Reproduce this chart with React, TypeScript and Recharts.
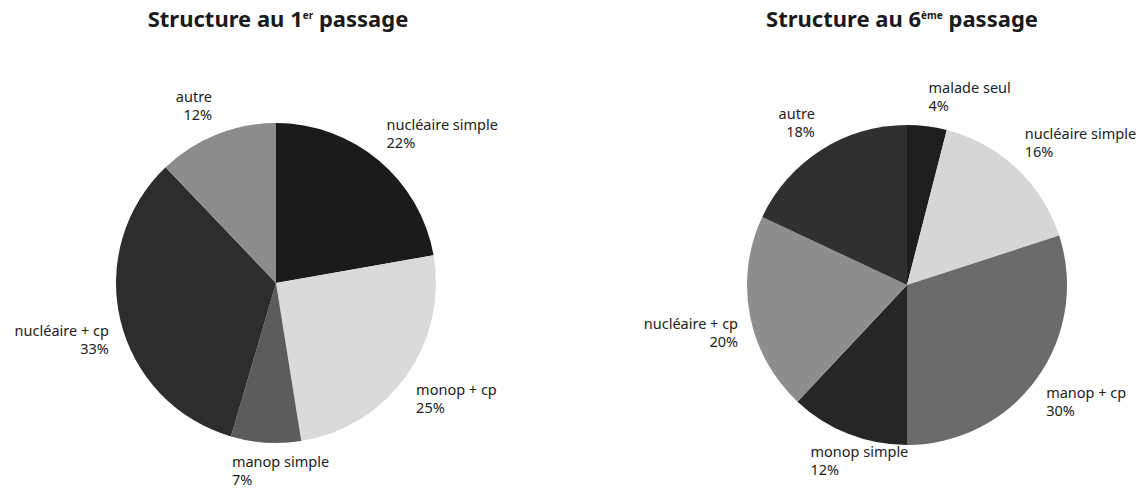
import React from 'react';
import { PieChart, Pie, Cell } from 'recharts';

const leftNames = ['nucléaire simple', 'monop + cp', 'manop simple', 'nucléaire + cp', 'autre'];
const leftValues = [22, 25, 7, 33, 12];
const leftColors = ['#1b1b1b', '#dadada', '#5c5c5c', '#2d2d2d', '#8c8c8c'];

const rightNames = ['malade seul', 'nucléaire simple', 'manop + cp', 'monop simple', 'nucléaire + cp', 'autre'];
const rightValues = [4, 16, 30, 12, 20, 18];
const rightColors = ['#1e1e1e', '#d6d6d6', '#6b6b6b', '#262626', '#8e8e8e', '#303030'];

const leftData = leftNames.map((name, i) => ({ name, value: leftValues[i] }));
const rightData = rightNames.map((name, i) => ({ name, value: rightValues[i] }));

const RAD = Math.PI / 180;
const FONT = '"Noto Sans", sans-serif';

function renderLabel(props: any) {
  const { cx, cy, midAngle, outerRadius, name, value } = props;
  const R = outerRadius + 12;
  const dx = Math.cos(midAngle * RAD);
  const dy = -Math.sin(midAngle * RAD);
  const px = cx + R * dx;
  const py = cy + R * dy;
  const lines = [name, `${value}%`];
  const w = Math.max(...lines.map((l: string) => l.length)) * 7.2;
  let x = px;
  let anchor: 'start' | 'end' = 'start';
  if (Math.abs(dx) < 0.45 && dy > 0) {
    x = px - w / 2 + 10;
    anchor = 'start';
  } else if (dx >= 0) {
    anchor = 'start';
  } else {
    anchor = 'end';
  }
  const first = dy < 0 ? py - 21 : py + 12;
  return (
    <text x={x} y={first} textAnchor={anchor} fill="#222" fontSize={14.5} fontFamily={FONT}>
      <tspan x={x} y={first}>{lines[0]}</tspan>
      <tspan x={x} y={first + 18}>{lines[1]}</tspan>
    </text>
  );
}

const titleStyle: React.CSSProperties = {
  position: 'absolute',
  top: 3,
  width: 400,
  textAlign: 'center',
  fontFamily: FONT,
  fontWeight: 700,
  fontSize: 22,
  color: '#1a1a1a',
  whiteSpace: 'nowrap',
};
const supStyle: React.CSSProperties = { fontSize: 10, verticalAlign: 'super', lineHeight: 0 };

export default function App() {
  return (
    <div style={{ position: 'absolute', left: 0, top: 0, width: 1148, height: 490, background: '#fff' }}>
      <PieChart width={1148} height={490} margin={{ top: 0, right: 0, bottom: 0, left: 0 }}>
        <Pie
          data={leftData}
          dataKey="value"
          nameKey="name"
          cx={276}
          cy={283}
          outerRadius={160}
          startAngle={90}
          endAngle={-270}
          stroke="none"
          label={renderLabel}
          labelLine={false}
          isAnimationActive={false}
        >
          {leftData.map((d, i) => (
            <Cell key={d.name} fill={leftColors[i]} />
          ))}
        </Pie>
        <Pie
          data={rightData}
          dataKey="value"
          nameKey="name"
          cx={907}
          cy={285}
          outerRadius={160}
          startAngle={90}
          endAngle={-270}
          stroke="none"
          label={renderLabel}
          labelLine={false}
          isAnimationActive={false}
        >
          {rightData.map((d, i) => (
            <Cell key={d.name} fill={rightColors[i]} />
          ))}
        </Pie>
      </PieChart>
      <div style={{ ...titleStyle, left: 278 - 200 }}>
        Structure au 1<span style={supStyle}>er</span> passage
      </div>
      <div style={{ ...titleStyle, left: 902 - 200 }}>
        Structure au 6<span style={supStyle}>ème</span> passage
      </div>
    </div>
  );
}
